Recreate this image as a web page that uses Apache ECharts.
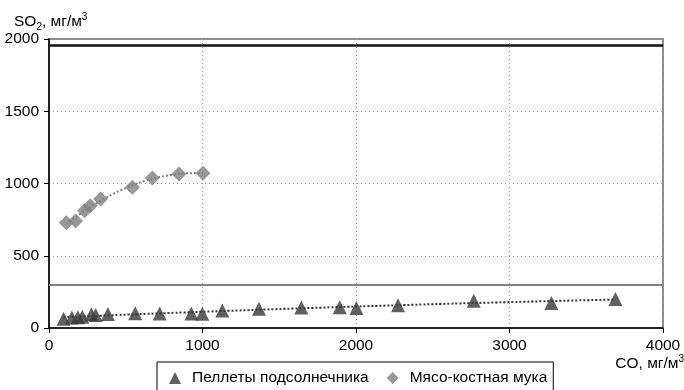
<!DOCTYPE html>
<html><head><meta charset="utf-8">
<script src="https://cdn.jsdelivr.net/npm/echarts@6/dist/echarts.min.js"></script>
<style>html,body{margin:0;padding:0;background:#fff}#c{width:684px;height:390px}</style>
</head><body><div id="c"></div>
<script>
// Data
var pelletsName = 'Пеллеты подсолнечника';
var pelletsCO  = [95,149,188,217,276,304,384,562,721,927,999,1129,1368,1644,1894,2003,2274,2767,3273,3690];
var pelletsSO2 = [64,73,74,78,95,90,97,102,100,100,99,121,133,142,144,138,157,189,173,201];
var mukaName = 'Мясо-костная мука';
var mukaCO  = [113,173,232,269,336,543,673,847,1003];
var mukaSO2 = [729,740,812,846,893,974,1038,1066,1071];
var limitBlack = [1955];
var limitGray = [300];
var xTicks = [0,1000,2000,3000,4000];
var yTicks = [0,500,1000,1500,2000];

var FONT = '"Liberation Sans",Arial,sans-serif';

function pairs(xs, ys){ return xs.map(function(x,i){ return [x, ys[i]]; }); }

// quadratic least-squares trendline derived from the data
function quadFit(xs, ys){
  var n = xs.length, S=[0,0,0,0,0], T=[0,0,0];
  for (var i=0;i<n;i++){ var x=xs[i], y=ys[i], p=1;
    for (var k=0;k<5;k++){ S[k]+=p; if(k<3) T[k]+=p*y; p*=x; } }
  var A=[[S[0],S[1],S[2],T[0]],[S[1],S[2],S[3],T[1]],[S[2],S[3],S[4],T[2]]];
  for (var c=0;c<3;c++){ for (var r=c+1;r<3;r++){ var f=A[r][c]/A[c][c];
      for (var k=c;k<4;k++) A[r][k]-=f*A[c][k]; } }
  var b=[0,0,0];
  for (var r=2;r>=0;r--){ var s=A[r][3]; for (var k=r+1;k<3;k++) s-=A[r][k]*b[k]; b[r]=s/A[r][r]; }
  var lo=Math.min.apply(null,xs), hi=Math.max.apply(null,xs), out=[];
  for (var j=0;j<=60;j++){ var x=lo+(hi-lo)*j/60; out.push([x, b[0]+b[1]*x+b[2]*x*x]); }
  return out;
}
function plain(v){ return String(v); }

var chart = echarts.init(document.getElementById('c'), null, {renderer:'canvas'});
chart.setOption({
  animation:false,
  backgroundColor:'#fff',
  grid:{left:49, right:21, top:39, bottom:62, outerBoundsMode:'none', containLabel:false,
    show:true, borderColor:'#8c8c8c', borderWidth:2, backgroundColor:'transparent'},
  xAxis:{type:'value', min:xTicks[0], max:xTicks[xTicks.length-1], interval:1000,
    axisLine:{onZero:false, lineStyle:{color:'#000', width:1.5}},
    axisTick:{show:true, length:5, lineStyle:{color:'#000'}},
    axisLabel:{color:'#000', fontFamily:FONT, fontSize:15.5, margin:10, formatter:plain},
    splitLine:{show:true, lineStyle:{color:'#9a9a9a', type:[1,3], width:1}}},
  yAxis:{type:'value', min:yTicks[0], max:yTicks[yTicks.length-1], interval:500,
    axisLine:{onZero:false, lineStyle:{color:'#000', width:1.5}},
    axisTick:{show:true, length:5, lineStyle:{color:'#000'}},
    axisLabel:{color:'#000', fontFamily:FONT, fontSize:15.5, margin:10, formatter:plain},
    splitLine:{show:true, lineStyle:{color:'#9a9a9a', type:[1,3], width:1}}},
  legend:{data:[pelletsName, mukaName], left:157, top:362, orient:'horizontal',
    borderColor:'#000', borderWidth:1, borderRadius:0, padding:[8,6,10,12],
    itemWidth:12, itemHeight:12, itemGap:18,
    textStyle:{color:'#000', fontFamily:FONT, fontSize:15.5, padding:[0,0,0,6]}},
  graphic:[
    {type:'text', left:14, top:10, style:{
      text:'{a|SO}{s|2}{a|, мг/м}{p|3}',
      rich:{a:{fontFamily:FONT, fontSize:15.5, fill:'#000', lineHeight:20, verticalAlign:'bottom'},
            s:{fontFamily:FONT, fontSize:10, fill:'#000', lineHeight:20, verticalAlign:'bottom', padding:[0,0,-2,0]},
            p:{fontFamily:FONT, fontSize:10, fill:'#000', lineHeight:20, verticalAlign:'top', padding:[2,0,0,0]}}}},
    {type:'text', right:0, top:352, style:{
      text:'{a|CO, мг/м}{p|3}',
      rich:{a:{fontFamily:FONT, fontSize:15.5, fill:'#000', lineHeight:20, verticalAlign:'bottom'},
            p:{fontFamily:FONT, fontSize:10, fill:'#000', lineHeight:20, verticalAlign:'top', padding:[2,0,0,0]}}}}
  ],
  series:[
    {name:'trend1', type:'line', data:quadFit(pelletsCO, pelletsSO2), showSymbol:false, smooth:true, z:2,
     lineStyle:{color:'#333', width:2, type:[2,2]}, silent:true,
     markLine:{silent:true, symbol:'none', label:{show:false},
       data:[{yAxis:limitBlack[0], lineStyle:{color:'#111', width:2.5, type:'solid'}},
             {yAxis:limitGray[0], lineStyle:{color:'#808080', width:2, type:'solid'}}]}},
    {name:'trend2', type:'line', data:quadFit(mukaCO, mukaSO2), showSymbol:false, smooth:true, z:2,
     lineStyle:{color:'#808080', width:2, type:[2,2]}, silent:true},
    {name:pelletsName, type:'scatter', symbol:'triangle', symbolSize:14, z:5,
     itemStyle:{color:'#383838'}, data:pairs(pelletsCO, pelletsSO2)},
    {name:mukaName, type:'scatter', symbol:'diamond', symbolSize:15, z:5,
     itemStyle:{color:'#7f7f7f'}, data:pairs(mukaCO, mukaSO2)}
  ]
});
</script></body></html>
